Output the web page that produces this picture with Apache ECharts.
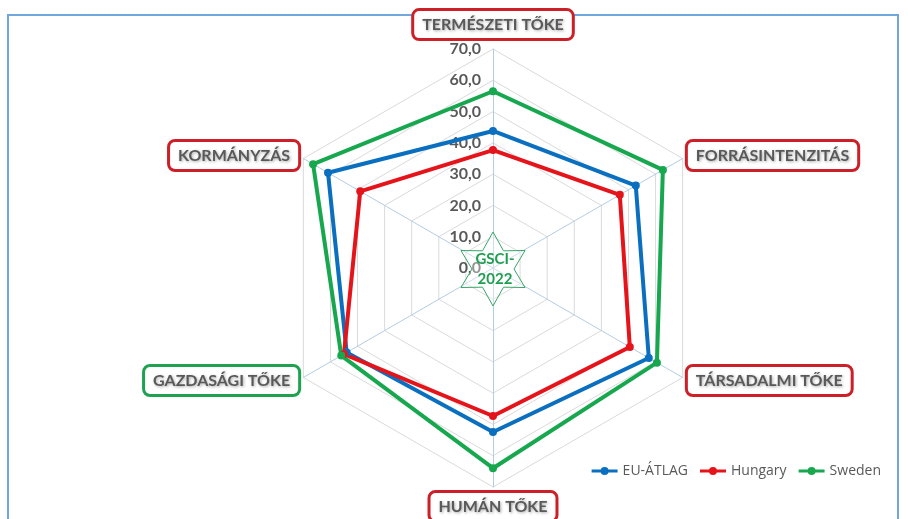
<!DOCTYPE html>
<html>
<head>
<meta charset="utf-8">
<script src="https://cdn.jsdelivr.net/npm/echarts@6/dist/echarts.min.js"></script>
<style>
  html, body { margin: 0; padding: 0; background: #fff; }
  #chart { width: 908px; height: 519px; }
</style>
</head>
<body>
<div id="chart"></div>
<script>
// tengelyek (az ECharts sorrendjében: fentről, az óramutatóval ellentétesen)
var categories = ['TERMÉSZETI TŐKE', 'KORMÁNYZÁS', 'GAZDASÁGI TŐKE', 'HUMÁN TŐKE', 'TÁRSADALMI TŐKE', 'FORRÁSINTENZITÁS'];
var boxColors = ['r', 'r', 'g', 'r', 'r', 'r'];
var seriesNames = ['EU-ÁTLAG', 'Hungary', 'Sweden'];
var euValues = [43.8, 60.9, 54.0, 52.4, 57.5, 52.7];
var huValues = [37.7, 49.0, 55.0, 47.3, 50.5, 46.8];
var seValues = [56.5, 66.4, 56.0, 64.0, 60.5, 62.7];
var axisMax = 70;
var axisSteps = 7;

var colors = ['#0b6fc0', '#e5141b', '#17a84f'];

var chart = echarts.init(document.getElementById('chart'));

// csillag a közepén
function starPoints(cx, cy, R, r) {
  var pts = [];
  for (var i = 0; i < 12; i++) {
    var a = -Math.PI / 2 + i * Math.PI / 6;
    var rr = i % 2 === 0 ? R : r;
    pts.push([cx + rr * Math.cos(a), cy + rr * Math.sin(a)]);
  }
  return pts;
}

var indicators = categories.map(function (name, i) {
  var ind = { name: name, max: axisMax, min: 0 };
  if (i === 0) {
    ind.axisLabel = {
      show: true,
      color: '#595959',
      fontFamily: 'Lato',
      fontWeight: 'bold',
      fontSize: 16,
      margin: 12,
      formatter: function (v) { return v.toFixed(1).replace('.', ','); }
    };
  }
  return ind;
});

var labelBox = function (c) {
  return {
    color: '#595959',
    fontFamily: 'Lato',
    fontWeight: 'bold',
    fontSize: 16,
    backgroundColor: '#fff',
    borderColor: c,
    borderWidth: 3,
    borderRadius: 5,
    padding: [6, 8, 5, 8],
    textShadowColor: 'rgba(0,0,0,0.35)',
    textShadowBlur: 3,
    textShadowOffsetX: 1,
    textShadowOffsetY: 1
  };
};

// vonal + kör jelölő a jelmagyarázatban
var lineIcon = 'path://M0,3.5 L26,3.5 L26,6.5 L0,6.5 Z M17,5 A4,4 0 1,1 9,5 A4,4 0 1,1 17,5 Z';

var option = {
  backgroundColor: '#fff',
  color: colors,
  animation: false,
  legend: {
    data: seriesNames,
    right: 22,
    top: 459,
    icon: lineIcon,
    itemWidth: 26,
    itemHeight: 10,
    itemGap: 12,
    textStyle: { color: '#595959', fontFamily: 'Open Sans', fontSize: 14 }
  },
  radar: {
    center: [493, 268],
    radius: 219,
    startAngle: 90,
    splitNumber: axisSteps,
    shape: 'polygon',
    nameGap: 6,
    axisName: {
      formatter: function (name, ind) {
        var i = categories.indexOf(name);
        return '{' + boxColors[i] + '|' + name + '}';
      },
      rich: {
        r: labelBox('#cc1f27'),
        g: labelBox('#1ea24f')
      }
    },
    axisLine: { lineStyle: { color: '#b3cde6', width: 1 } },
    splitLine: { lineStyle: { color: '#dadada', width: 1 } },
    splitArea: { show: false },
    axisTick: { show: false },
    axisLabel: { show: false },
    indicator: indicators
  },
  series: [{
    type: 'radar',
    symbol: 'circle',
    symbolSize: 8,
    lineStyle: { width: 4 },
    data: [
      { name: seriesNames[0], value: euValues, itemStyle: { color: colors[0] }, lineStyle: { color: colors[0] } },
      { name: seriesNames[1], value: huValues, itemStyle: { color: colors[1] }, lineStyle: { color: colors[1] } },
      { name: seriesNames[2], value: seValues, itemStyle: { color: colors[2] }, lineStyle: { color: colors[2] } }
    ]
  }],
  graphic: [
    {
      type: 'rect',
      shape: { x: 8, y: 15, width: 890, height: 520 },
      style: { fill: 'none', stroke: '#6fa6dc', lineWidth: 2 },
      z: 0
    },
    {
      type: 'polygon',
      shape: { points: starPoints(493, 269, 37, 21) },
      style: { fill: 'rgba(255,255,255,0.35)', stroke: '#3aa56a', lineWidth: 1 },
      z: 10
    },
    {
      type: 'text',
      x: 495, y: 269,
      style: {
        text: 'GSCI-\n2022',
        fill: '#1f9e50',
        font: 'bold 15px Lato',
        align: 'center',
        verticalAlign: 'middle',
        lineHeight: 20
      },
      z: 11
    }
  ]
};

chart.setOption(option);
</script>
</body>
</html>
